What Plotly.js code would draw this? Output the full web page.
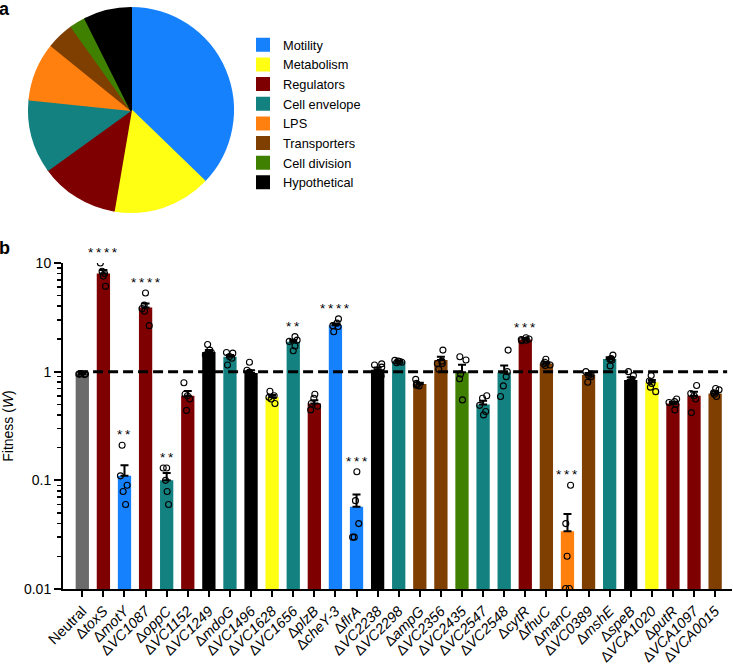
<!DOCTYPE html>
<html>
<head>
<meta charset="utf-8">
<script src="https://cdn.plot.ly/plotly-3.0.1.min.js"></script>
<style>html,body{margin:0;padding:0;background:#fff;}#chart{width:733px;height:664px;}</style>
</head>
<body>
<div id="chart"></div>
<script>
// ---- Panel a: pie ----
const pieLabels = ['Motility','Metabolism','Regulators','Cell envelope','LPS','Transporters','Cell division','Hypothetical'];
const pieValues = [37.3, 15.5, 12.4, 11.6, 9.2, 4.3, 2.5, 7.4];

// ---- Panel b: bars ----
const genes = ['Neutral','toxS','motY','VC1087','oppC','VC1152','VC1249','mdoG','VC1496','VC1628','VC1656','plzB','cheY-3','flrA','VC2238','VC2298','ampG','VC2356','VC2435','VC2547','VC2548','cytR','fhuC','manC','VC0389','mshE','speB','VCA1020','putR','VCA1097','VCA0015'];
const geneClass = ['Neutral','Regulators','Motility','Regulators','Cell envelope','Regulators','Hypothetical','Cell envelope','Hypothetical','Metabolism','Cell envelope','Regulators','Motility','Motility','Hypothetical','Cell envelope','Transporters','Transporters','Cell division','Cell envelope','Cell envelope','Regulators','Transporters','LPS','Transporters','Cell envelope','Hypothetical','Metabolism','Regulators','Regulators','Transporters'];
const fitnessMean = [0.95, 8.0, 0.11, 3.9, 0.10, 0.60, 1.52, 1.37, 0.97, 0.58, 1.88, 0.51, 2.68, 0.057, 1.04, 1.24, 0.77, 1.28, 0.99, 0.50, 0.98, 1.98, 1.19, 0.034, 0.93, 1.31, 0.84, 0.80, 0.51, 0.60, 0.63];
const fitnessSem = [0.01, 0.6, 0.028, 0.35, 0.017, 0.065, 0.06, 0.05, 0.06, 0.03, 0.08, 0.035, 0.1, 0.017, 0.05, 0.02, 0.02, 0.09, 0.17, 0.04, 0.16, 0.03, 0.03, 0.015, 0.04, 0.05, 0.05, 0.04, 0.02, 0.055, 0.03];
const replicates = [
  [0.94, 0.95, 0.96, 0.95, 0.95],
  [10.0, 8.4, 8.0, 7.6, 6.1],
  [0.21, 0.11, 0.09, 0.079, 0.06],
  [5.3, 4.1, 3.8, 3.6, 2.65],
  [0.13, 0.13, 0.10, 0.079, 0.06],
  [0.79, 0.62, 0.60, 0.56, 0.44],
  [1.78, 1.58, 1.50, 1.42, 1.35],
  [1.50, 1.48, 1.38, 1.33, 1.15],
  [1.22, 1.03, 0.99, 0.93, 0.78],
  [0.66, 0.60, 0.58, 0.56, 0.51],
  [2.10, 1.95, 1.90, 1.72, 1.56],
  [0.62, 0.57, 0.51, 0.48, 0.445],
  [3.06, 2.80, 2.65, 2.60, 2.33],
  [0.12, 0.065, 0.04, 0.03, 0.03],
  [1.18, 1.15, 1.10, 0.95, 0.91],
  [1.27, 1.25, 1.24, 1.22, 1.21],
  [0.85, 0.78, 0.76, 0.75, 0.74],
  [1.58, 1.25, 1.19, 1.19, 1.05],
  [1.37, 1.28, 0.95, 0.86, 0.55],
  [0.60, 0.57, 0.49, 0.43, 0.40],
  [1.58, 1.00, 0.90, 0.74, 0.59],
  [2.05, 2.00, 1.98, 1.95, 1.93],
  [1.30, 1.22, 1.18, 1.15, 1.14],
  [0.09, 0.04, 0.02, 0.0101, 0.0101],
  [1.00, 0.95, 0.92, 0.90, 0.80],
  [1.42, 1.32, 1.30, 1.28, 1.13],
  [1.00, 0.92, 0.85, 0.78, 0.70],
  [0.92, 0.82, 0.78, 0.72, 0.655],
  [0.56, 0.53, 0.52, 0.50, 0.445],
  [0.745, 0.63, 0.60, 0.56, 0.42],
  [0.70, 0.68, 0.64, 0.62, 0.59]
];
const significance = ['', '****', '**', '****', '**', '', '', '', '', '', '**', '', '****', '***', '', '', '', '', '', '', '', '***', '', '***', '', '', '', '', '', '', ''];
const yTickVals = [0.01, 0.1, 1, 10];
const yTickText = ['0.01', '0.1', '1', '10'];

// ---- styles ----
const palette = {
  'Neutral': '#6b6b6b',
  'Motility': '#1681fd',
  'Metabolism': '#ffff14',
  'Regulators': '#7f0000',
  'Cell envelope': '#138180',
  'LPS': '#ff800f',
  'Transporters': '#7f3f00',
  'Cell division': '#3f8000',
  'Hypothetical': '#000000'
};
const FONT = 'Liberation Sans, Arial, Helvetica, sans-serif';
const W = 733, H = 664;
const THIN = '\u2009';

const tickText = genes.map(g => g === 'Neutral' ? 'Neutral' : 'Δ<i>' + g + '</i>');

const minorVals = [];
[0.01, 0.1, 1].forEach(d => { for (let k = 2; k <= 9; k++) minorVals.push(+(d * k).toPrecision(3)); });

const pieTrace = {
  type: 'pie',
  labels: pieLabels,
  values: pieValues,
  sort: false,
  direction: 'clockwise',
  rotation: 0,
  textinfo: 'none',
  hoverinfo: 'label+percent',
  marker: {colors: pieLabels.map(l => palette[l]), line: {color: pieLabels.map(l => palette[l]), width: 2}},
  domain: {x: [29 / W, 233 / W], y: [1 - 212 / H, 1 - 8 / H]},
  showlegend: true
};

const barTrace = {
  type: 'bar',
  x: genes,
  y: fitnessMean,
  width: 0.63,
  marker: {color: geneClass.map(c => palette[c]), line: {width: 0}},
  error_y: {type: 'data', symmetric: false, array: fitnessSem, arrayminus: fitnessSem.map(() => 0),
            color: '#000', thickness: 2, width: 4},
  showlegend: false,
  hoverinfo: 'x+y'
};

const ptsX = [], ptsY = [];
replicates.forEach((arr, i) => arr.forEach(v => { ptsX.push(genes[i]); ptsY.push(v); }));
const pointsTrace = {
  type: 'box',
  x: ptsX,
  y: ptsY,
  boxpoints: 'all',
  jitter: 0.8,
  pointpos: 0,
  fillcolor: 'rgba(0,0,0,0)',
  line: {color: 'rgba(0,0,0,0)', width: 0},
  whiskerwidth: 0,
  marker: {symbol: 'circle-open', size: 6, color: '#000', line: {width: 1.1, color: '#000'}},
  showlegend: false,
  hoverinfo: 'y'
};

const annotations = [
  {xref: 'paper', yref: 'paper', x: -3 / W, y: 1 + 3 / H, xanchor: 'left', yanchor: 'top', showarrow: false,
   text: '<b>a</b>', font: {family: FONT, size: 18, color: '#000'}},
  {xref: 'paper', yref: 'paper', x: -3 / W, y: 1 - 236 / H, xanchor: 'left', yanchor: 'top', showarrow: false,
   text: '<b>b</b>', font: {family: FONT, size: 18, color: '#000'}}
];
genes.forEach((g, i) => {
  if (!significance[i]) return;
  annotations.push({x: g, y: Math.log10(Math.max(...replicates[i])), xref: 'x', yref: 'y',
    text: significance[i].split('').join(THIN), showarrow: false, yanchor: 'bottom', yshift: 1,
    font: {family: FONT, size: 13.5, color: '#000'}});
});

const layout = {
  width: W, height: H,
  margin: {l: 0, r: 0, t: 0, b: 0},
  paper_bgcolor: '#fff', plot_bgcolor: 'rgba(0,0,0,0)',
  font: {family: FONT, color: '#000'},
  showlegend: true,
  legend: {x: 243 / W, y: 1 - 30 / H, xanchor: 'left', yanchor: 'top', font: {family: FONT, size: 12.8, color: '#000'},
           bgcolor: 'rgba(0,0,0,0)', traceorder: 'normal'},
  bargap: 0.37,
  boxmode: 'overlay',
  xaxis: {
    domain: [63 / W, 732 / W],
    type: 'category',
    range: [-0.915, 30.8],
    tickmode: 'array', tickvals: genes, ticktext: tickText,
    tickangle: -45,
    tickfont: {family: FONT, size: 14.5, color: '#000'},
    ticks: 'outside', ticklen: 6, tickwidth: 2, tickcolor: '#000',
    showline: true, linecolor: '#000', linewidth: 2,
    showgrid: false, zeroline: false, fixedrange: true
  },
  yaxis: {
    domain: [1 - 589 / H, 1 - 263 / H],
    type: 'log',
    range: [-2, 1],
    tickmode: 'array', tickvals: yTickVals, ticktext: yTickText,
    tickfont: {family: FONT, size: 14, color: '#000'},
    ticks: 'outside', ticklen: 7, tickwidth: 2, tickcolor: '#000',
    minor: {tickmode: 'array', tickvals: minorVals, ticks: 'outside', ticklen: 4, tickwidth: 1.5, tickcolor: '#000', showgrid: false},
    showline: true, linecolor: '#000', linewidth: 2,
    showgrid: false, zeroline: false,
    title: {text: 'Fitness (<i>W</i>)', font: {family: FONT, size: 14, color: '#000'}, standoff: 8}
  },
  shapes: [{type: 'line', xref: 'x', yref: 'y', x0: -0.2, x1: 30.57, y0: 1, y1: 1, layer: 'above',
            line: {color: '#000', width: 3, dash: '10px,5px'}}],
  annotations: annotations
};

Plotly.newPlot('chart', [pieTrace, barTrace, pointsTrace], layout, {displayModeBar: false, staticPlot: true});
</script>
</body>
</html>
